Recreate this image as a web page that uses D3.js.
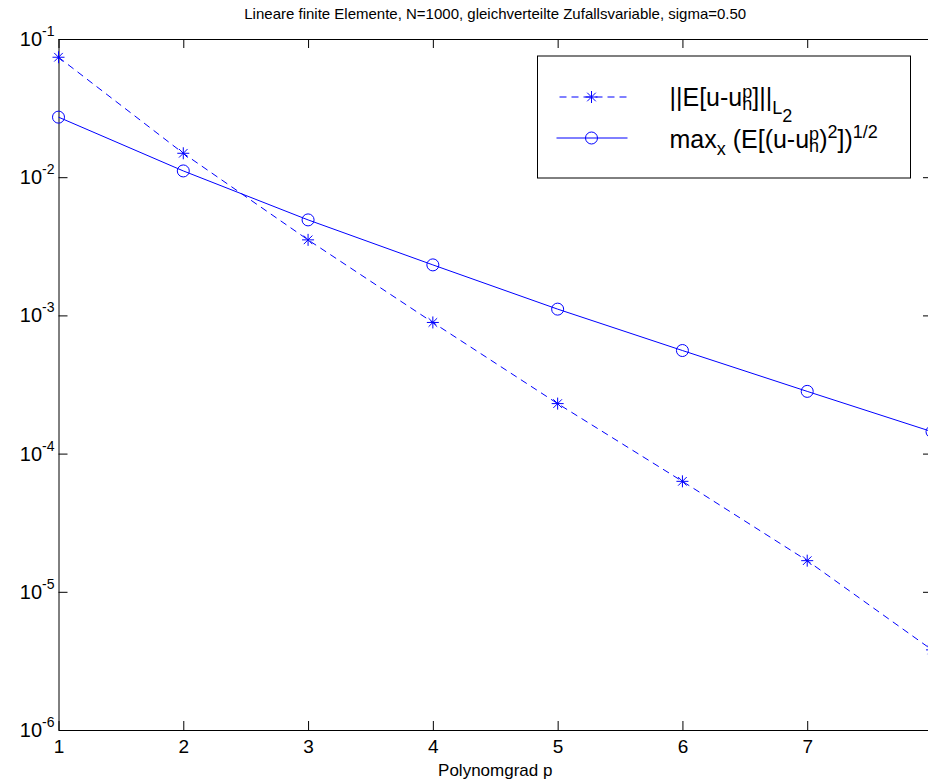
<!DOCTYPE html>
<html>
<head>
<meta charset="utf-8">
<script src="https://cdn.jsdelivr.net/npm/d3@7"></script>
<style>
  body { margin: 0; background: #fff; }
  text { font-family: "Liberation Sans", Arial, sans-serif; fill: #000; }
</style>
</head>
<body>
<div id="chart"></div>
<script>
// data
var polyDeg = [1, 2, 3, 4, 5, 6, 7, 8];
var errMean = [0.0738, 0.0149, 0.00352, 0.000889, 0.000230, 0.0000630, 0.0000168, 0.0000038];
var errMaxStd = [0.0272, 0.0111, 0.00491, 0.00232, 0.00111, 0.000557, 0.000282, 0.000144];
var yTickExp = [-1, -2, -3, -4, -5, -6];
var xTicks = [1, 2, 3, 4, 5, 6, 7, 8];

var svgWidth = 928;
var svgHeight = 782;
// right edge of the axes box is outside the window (cut off like the original)
var margin = { top: 39, right: -4, bottom: 52, left: 58.5 };
var width = svgWidth - margin.left - margin.right;
var height = svgHeight - margin.top - margin.bottom;
var blue = "#0000ff";

var svg = d3.select("#chart")
  .append("svg")
  .attr("width", svgWidth)
  .attr("height", svgHeight);

var chartGroup = svg.append("g")
  .attr("transform", `translate(${margin.left}, ${margin.top})`);

var xScale = d3.scaleLinear()
  .domain([1, 8])
  .range([0, width]);

var yScale = d3.scaleLog()
  .domain([1e-6, 1e-1])
  .range([height, 0]);

var yTickVals = yTickExp.map(e => Math.pow(10, e));

// axes, ticks pointing inwards (matlab style)
var bottomAxis = d3.axisBottom(xScale).tickValues(xTicks).tickSizeInner(-9).tickSizeOuter(0)
  .tickPadding(10).tickFormat(d3.format("d"));
var topAxis = d3.axisTop(xScale).tickValues(xTicks).tickSizeInner(-9).tickSizeOuter(0).tickFormat("");
var leftAxis = d3.axisLeft(yScale).tickValues(yTickVals).tickSizeInner(-9).tickSizeOuter(0);
var rightAxis = d3.axisRight(yScale).tickValues(yTickVals).tickSizeInner(-9).tickSizeOuter(0).tickFormat("");

var xAxis = chartGroup.append("g")
  .attr("transform", `translate(0, ${height})`)
  .call(bottomAxis);
chartGroup.append("g").call(topAxis);
var yAxis = chartGroup.append("g").call(leftAxis);
chartGroup.append("g")
  .attr("transform", `translate(${width}, 0)`)
  .call(rightAxis);

chartGroup.selectAll(".domain, .tick line")
  .attr("stroke", "#000")
  .attr("stroke-width", 1);

xAxis.selectAll("text")
  .style("font-size", "19px");
// the label for 8 sits past the window edge in the original
xAxis.selectAll(".tick text").filter(d => d === 8).remove();

// y labels as 10 with superscript exponent
yAxis.selectAll(".tick text")
  .each(function(d) {
    var t = d3.select(this);
    var e = Math.round(Math.log10(d));
    t.text(null)
      .attr("dy", "0.32em")
      .attr("x", -4)
      .attr("text-anchor", "end")
      .style("font-size", "20px");
    t.append("tspan").text("10");
    t.append("tspan")
      .attr("dy", -10)
      .style("font-size", "14px")
      .text(e);
  });

// series lines
var line = d3.line()
  .x((d, i) => xScale(polyDeg[i]))
  .y(d => yScale(d));

chartGroup.append("path")
  .datum(errMean)
  .attr("fill", "none")
  .attr("stroke", blue)
  .attr("stroke-width", 1)
  .attr("stroke-dasharray", "7,5")
  .attr("d", line);

chartGroup.append("path")
  .datum(errMaxStd)
  .attr("fill", "none")
  .attr("stroke", blue)
  .attr("stroke-width", 1)
  .attr("d", line);

// star marker = plus + cross
function drawStar(g, cx, cy) {
  var a = 6, b = 4.3;
  var p = `M${cx - a},${cy}L${cx + a},${cy}M${cx},${cy - a}L${cx},${cy + a}` +
    `M${cx - b},${cy - b}L${cx + b},${cy + b}M${cx - b},${cy + b}L${cx + b},${cy - b}`;
  g.append("path").attr("d", p).attr("stroke", blue).attr("stroke-width", 1).attr("fill", "none");
}

errMean.forEach(function(v, i) {
  drawStar(chartGroup, xScale(polyDeg[i]), yScale(v));
});

chartGroup.selectAll(".circ")
  .data(errMaxStd)
  .enter()
  .append("circle")
  .attr("class", "circ")
  .attr("cx", (d, i) => xScale(polyDeg[i]))
  .attr("cy", d => yScale(d))
  .attr("r", 6)
  .attr("fill", "none")
  .attr("stroke", blue)
  .attr("stroke-width", 1);

// title + x label
svg.append("text")
  .attr("x", margin.left + width / 2)
  .attr("y", 19)
  .attr("text-anchor", "middle")
  .style("font-size", "15px")
  .text("Lineare finite Elemente, N=1000, gleichverteilte Zufallsvariable, sigma=0.50");

svg.append("text")
  .attr("x", margin.left + width / 2)
  .attr("y", 776)
  .attr("text-anchor", "middle")
  .style("font-size", "17px")
  .text("Polynomgrad p");

// legend
var legend = svg.append("g").attr("transform", "translate(537.5, 56)");
legend.append("rect")
  .attr("width", 373)
  .attr("height", 122)
  .attr("fill", "#fff")
  .attr("stroke", "#000")
  .attr("stroke-width", 1);

legend.append("line")
  .attr("x1", 22).attr("x2", 90).attr("y1", 41).attr("y2", 41)
  .attr("stroke", blue).attr("stroke-dasharray", "7,5");
drawStar(legend, 54, 41);

legend.append("line")
  .attr("x1", 19).attr("x2", 90).attr("y1", 82).attr("y2", 82)
  .attr("stroke", blue);
legend.append("circle")
  .attr("cx", 54).attr("cy", 82).attr("r", 6)
  .attr("fill", "none").attr("stroke", blue);

// entry 1: ||E[u-u_h^p]||_{L_2}
var t1 = legend.append("text")
  .attr("x", 132)
  .attr("y", 50)
  .style("font-size", "25px");
t1.append("tspan").text("||E[u-u");
t1.append("tspan").attr("dy", -8).style("font-size", "18px").text("p");
t1.append("tspan").attr("dx", -10).attr("dy", 12).style("font-size", "18px").text("h");
t1.append("tspan").attr("dy", -4).text("]||");
t1.append("tspan").attr("dy", 8).style("font-size", "18px").text("L");
t1.append("tspan").attr("dy", 8).style("font-size", "18px").text("2");

// entry 2: max_x (E[(u-u_h^p)^2])^{1/2}
var t2 = legend.append("text")
  .attr("x", 132)
  .attr("y", 92)
  .style("font-size", "25px");
t2.append("tspan").text("max");
t2.append("tspan").attr("dy", 7).style("font-size", "18px").text("x");
t2.append("tspan").attr("dy", -7).text(" (E[(u-u");
t2.append("tspan").attr("dy", -8).style("font-size", "18px").text("p");
t2.append("tspan").attr("dx", -10).attr("dy", 12).style("font-size", "18px").text("h");
t2.append("tspan").attr("dy", -4).text(")");
t2.append("tspan").attr("dy", -10).style("font-size", "18px").text("2");
t2.append("tspan").attr("dy", 10).text("])");
t2.append("tspan").attr("dy", -10).style("font-size", "18px").text("1/2");
</script>
</body>
</html>
